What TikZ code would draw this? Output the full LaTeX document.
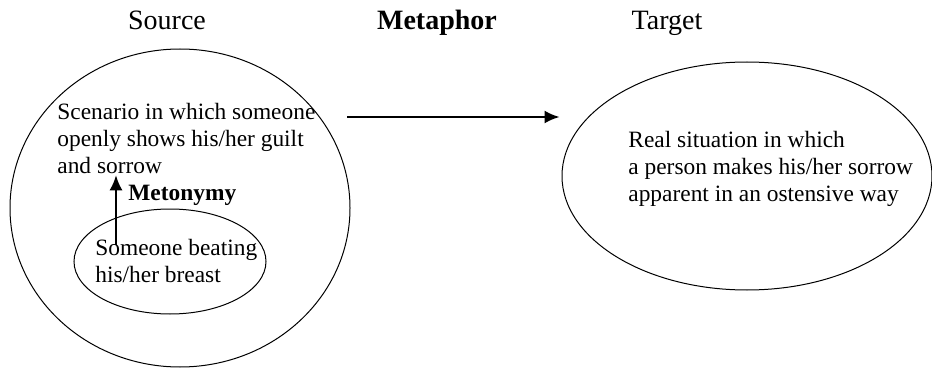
\documentclass[tikz,border=0pt]{standalone}
\usepackage{fontspec}
\setmainfont{Liberation Serif}
\usetikzlibrary{shapes.geometric,arrows.meta}

\begin{document}
\begin{tikzpicture}[x=0.5pt,y=-0.5pt,
        every node/.style={inner sep=0pt},
        head/.style={font=\fontsize{14}{16}\selectfont},
        txt/.style={font=\fontsize{11.7}{13.5}\selectfont, align=left},
        domainshape/.style={draw, ellipse, line width=0.5pt},
        maparrow/.style={line width=1pt, -{Latex[length=7.5pt,width=6.5pt]}}]
    \useasboundingbox (0,0) rectangle (932,369);
    \node [domainshape, minimum width=170pt, minimum height=159pt] (source) at (180,208) {};
    \node [domainshape, minimum width=96pt, minimum height=52.5pt] (beating) at (170,261.5) {};
    \node [domainshape, minimum width=185pt, minimum height=114pt] (target) at (747,176) {};
    \node [head, anchor=base] (sourcelbl) at (167,30) {Source};
    \node [head, anchor=base] (metaphorlbl) at (437,30) {\textbf{Metaphor}};
    \node [head, anchor=base] (targetlbl) at (667,30) {Target};
    \node [txt, anchor=north west] (scenario) at (57,103) {Scenario in which someone\\openly shows his/her guilt\\and sorrow};
    \node [txt, anchor=north west] (beatingtxt) at (95,239) {Someone beating\\his/her breast};
    \node [txt, anchor=north west] (situation) at (628,131) {Real situation in which\\a person makes his/her sorrow\\apparent in an ostensive way};
    \node [txt, anchor=base west] (metonymylbl) at (128,200) {\textbf{Metonymy}};
    \coordinate (metfoot) at (116,245);
    \coordinate (mapfoot) at (347,117);
    \draw [maparrow, shorten >=0.5pt] (metfoot) -- (metfoot |- scenario.south);
    \draw [maparrow, shorten >=1pt] (mapfoot) -- (mapfoot -| target.west);
\end{tikzpicture}
\end{document}
